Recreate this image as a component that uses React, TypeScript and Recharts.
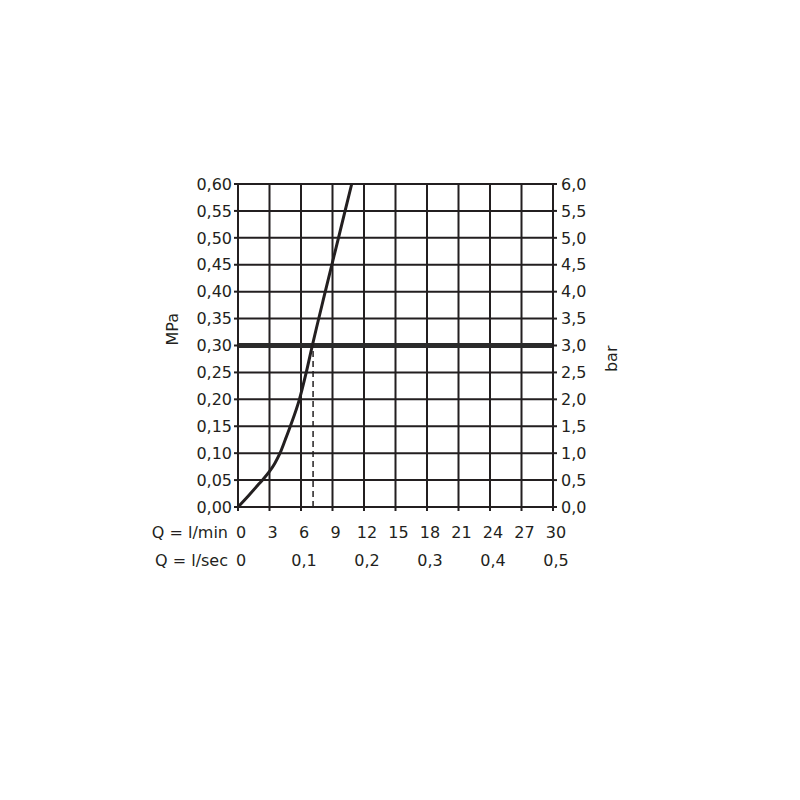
import { ComposedChart, Line, XAxis, YAxis, CartesianGrid, ReferenceLine } from 'recharts';

const flowLpm = [0, 1, 2, 3, 3.5, 4, 4.5, 5, 5.85, 6.5, 7.08, 8.31, 9.57, 10.83];
const pressureMPa = [0, 0.021, 0.043, 0.066, 0.081, 0.1, 0.125, 0.151, 0.2, 0.25, 0.3, 0.4, 0.5, 0.6];

const xTicks = [0, 3, 6, 9, 12, 15, 18, 21, 24, 27, 30];
const secLabels: Record<number, string> = { 0: '0', 6: '0,1', 12: '0,2', 18: '0,3', 24: '0,4', 30: '0,5' };
const mpaTicks = [0, 0.05, 0.1, 0.15, 0.2, 0.25, 0.3, 0.35, 0.4, 0.45, 0.5, 0.55, 0.6];
const barTicks = [0, 0.5, 1, 1.5, 2, 2.5, 3, 3.5, 4, 4.5, 5, 5.5, 6];
const ratedPressure = 0.3;
const ratedFlow = 7.15;

// 1 MPa = 10 bar
const curve = flowLpm.map((q, i) => ({ q, p: pressureMPa[i], pBar: pressureMPa[i] * 10 }));

const FONT = 'DejaVu Sans, sans-serif';
const INK = '#231f20';

function XTick(props: any) {
    const { x, y, payload } = props;
    const v = payload.value as number;
    const sec = secLabels[v];
    return (
        <g fontFamily={FONT} fontSize={16} fill={INK}>
            <line x1={x} y1={y - 8} x2={x} y2={y - 4} stroke={INK} strokeWidth={2} />
            <text x={x + 3} y={y + 23} textAnchor="middle">{v}</text>
            {sec !== undefined && <text x={x + 3} y={y + 51} textAnchor="middle">{sec}</text>}
            {v === 0 && (
                <>
                    <text x={x - 10} y={y + 23} textAnchor="end">Q = l/min</text>
                    <text x={x - 10} y={y + 51} textAnchor="end">Q = l/sec</text>
                </>
            )}
        </g>
    );
}

const fmt = (d: number) => (v: number) => v.toFixed(d).replace('.', ',');

export default function App() {
    return (
        <div style={{ position: 'absolute', left: 0, top: 0, width: 800, height: 800, background: '#fff' }}>
            <ComposedChart
                width={800}
                height={800}
                data={curve}
                margin={{ top: 184, right: 187, bottom: 233, left: 178 }}
            >
                <CartesianGrid yAxisId="mpa" stroke={INK} strokeWidth={2} strokeOpacity={1} />
                <XAxis
                    dataKey="q"
                    type="number"
                    domain={[0, 30]}
                    ticks={xTicks}
                    interval={0}
                    height={60}
                    axisLine={{ stroke: INK, strokeWidth: 2 }}
                    tickLine={false}
                    tick={<XTick />}
                />
                <YAxis
                    yAxisId="mpa"
                    domain={[0, 0.6]}
                    ticks={mpaTicks}
                    interval={0}
                    width={60}
                    tickFormatter={fmt(2)}
                    axisLine={{ stroke: INK, strokeWidth: 2 }}
                    tickLine={{ stroke: INK, strokeWidth: 2 }}
                    tickSize={4}
                    tick={{ fill: INK, fontSize: 16, fontFamily: FONT }}
                    label={{ value: 'MPa', angle: -90, position: 'insideLeft', offset: -6, fill: INK, fontSize: 16, fontFamily: FONT }}
                />
                <YAxis
                    yAxisId="bar"
                    orientation="right"
                    domain={[0, 6]}
                    ticks={barTicks}
                    interval={0}
                    width={60}
                    tickFormatter={fmt(1)}
                    axisLine={{ stroke: INK, strokeWidth: 2 }}
                    tickLine={{ stroke: INK, strokeWidth: 2 }}
                    tickSize={4}
                    tick={{ fill: INK, fontSize: 16, fontFamily: FONT, dx: 2 }}
                    label={{ value: 'bar', angle: -90, position: 'insideRight', offset: 2, fill: INK, fontSize: 16, fontFamily: FONT }}
                />
                <ReferenceLine yAxisId="mpa" y={ratedPressure} stroke="#2b2b2b" strokeWidth={5} />
                <ReferenceLine
                    yAxisId="mpa"
                    segment={[{ x: ratedFlow, y: 0 }, { x: ratedFlow, y: ratedPressure }]}
                    stroke={INK}
                    strokeWidth={1.5}
                    strokeDasharray="6 4"
                />
                <Line
                    yAxisId="bar"
                    dataKey="pBar"
                    stroke="none"
                    dot={false}
                    activeDot={false}
                    legendType="none"
                    isAnimationActive={false}
                />
                <Line
                    yAxisId="mpa"
                    dataKey="p"
                    type="monotone"
                    stroke={INK}
                    strokeWidth={3}
                    dot={false}
                    isAnimationActive={false}
                />
            </ComposedChart>
        </div>
    );
}
